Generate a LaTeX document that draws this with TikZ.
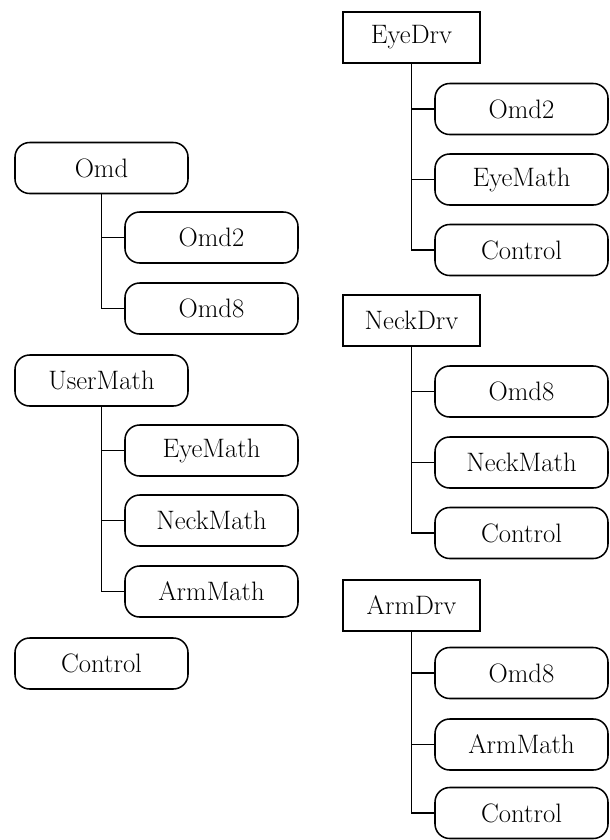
\documentclass[tikz,border=0pt]{standalone}
\begin{document}
\begin{tikzpicture}[x=0.75pt,y=-0.75pt,
  every node/.style={font=\fontsize{20}{24}\selectfont, inner sep=0pt},
  rbox/.style={draw, line width=1.15pt, rounded corners=11pt, minimum width=129.75pt, minimum height=38.25pt},
  sbox/.style={draw, line width=1.15pt, minimum width=102.75pt, minimum height=38.25pt},
  conn/.style={line width=1.4pt}]
\useasboundingbox (0,0) rectangle (610,840);
% left column
\node[rbox] (omd) at (101.5,168) {Omd};
\node[rbox] (lomd2) at (211.5,237.5) {Omd2};
\node[rbox] (lomd8) at (211.5,308.5) {Omd8};
\node[rbox] (usermath) at (101.5,380.5) {UserMath};
\node[rbox] (leyemath) at (211.5,450.5) {EyeMath};
\node[rbox] (lneckmath) at (211.5,520.5) {NeckMath};
\node[rbox] (larmmath) at (211.5,591.5) {ArmMath};
\node[rbox] (lcontrol) at (101.5,663.5) {Control};
% right column
\node[sbox] (eyedrv) at (411.5,37.5) {EyeDrv};
\node[rbox] (eomd2) at (521.5,109) {Omd2};
\node[rbox] (eeyemath) at (521.5,179.5) {EyeMath};
\node[rbox] (econtrol) at (521.5,250) {Control};
\node[sbox] (neckdrv) at (411.5,320.5) {NeckDrv};
\node[rbox] (nomd8) at (521.5,391.5) {Omd8};
\node[rbox] (nneckmath) at (521.5,462.5) {NeckMath};
\node[rbox] (ncontrol) at (521.5,533) {Control};
\node[sbox] (armdrv) at (411.5,605.5) {ArmDrv};
\node[rbox] (aomd8) at (521.5,673) {Omd8};
\node[rbox] (aarmmath) at (521.5,744.5) {ArmMath};
\node[rbox] (acontrol) at (521.5,813) {Control};
% connectors
\draw[conn] (omd.south) |- (lomd8.west);
\draw[conn] (omd.south |- lomd2.west) -- (lomd2.west);
\draw[conn] (usermath.south) |- (larmmath.west);
\draw[conn] (usermath.south |- leyemath.west) -- (leyemath.west);
\draw[conn] (usermath.south |- lneckmath.west) -- (lneckmath.west);
\draw[conn] (eyedrv.south) |- (econtrol.west);
\draw[conn] (eyedrv.south |- eomd2.west) -- (eomd2.west);
\draw[conn] (eyedrv.south |- eeyemath.west) -- (eeyemath.west);
\draw[conn] (neckdrv.south) |- (ncontrol.west);
\draw[conn] (neckdrv.south |- nomd8.west) -- (nomd8.west);
\draw[conn] (neckdrv.south |- nneckmath.west) -- (nneckmath.west);
\draw[conn] (armdrv.south) |- (acontrol.west);
\draw[conn] (armdrv.south |- aomd8.west) -- (aomd8.west);
\draw[conn] (armdrv.south |- aarmmath.west) -- (aarmmath.west);
\end{tikzpicture}
\end{document}
